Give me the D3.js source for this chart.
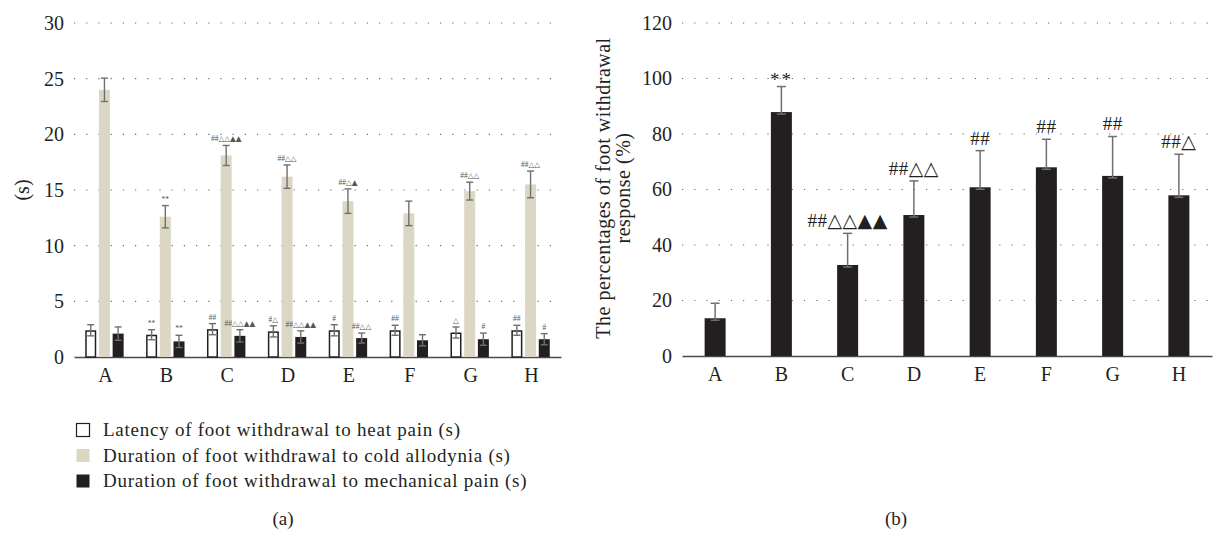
<!DOCTYPE html>
<html><head><meta charset="utf-8">
<script src="https://cdn.jsdelivr.net/npm/d3@7"></script>
<style>
html,body{margin:0;padding:0;background:#fff;}
text{font-family:"Liberation Serif","DejaVu Serif",serif;fill:#231f20;}
.tri{font-family:"DejaVu Sans",sans-serif;}
</style></head>
<body>
<svg id="chart" width="1215" height="533"></svg>
<script>
// ---------- data ----------
const groups = ["A","B","C","D","E","F","G","H"];
// panel (a)
const heatLatency = [2.4, 2.0, 2.5, 2.3, 2.4, 2.4, 2.2, 2.4];
const heatSd      = [0.5, 0.45, 0.5, 0.5, 0.5, 0.45, 0.5, 0.45];
const coldDuration = [24.0, 12.6, 18.1, 16.2, 14.0, 12.9, 14.9, 15.5];
const coldSd       = [1.05, 1.0, 0.9, 1.05, 1.1, 1.1, 0.8, 1.2];
const mechDuration = [2.1, 1.4, 1.9, 1.8, 1.7, 1.5, 1.6, 1.6];
const mechSd       = [0.6, 0.55, 0.55, 0.55, 0.45, 0.5, 0.55, 0.5];
const heatMarks = ["", "**", "##", "#△", "#", "##", "△", "##"];
const coldMarks = ["", "**", "##△△▲▲", "##△△", "##△▲", "", "##△△", "##△△"];
const mechMarks = ["", "**", "##△△▲▲", "##△△▲▲", "##△△", "", "#", "#"];
const ticksA = [0, 5, 10, 15, 20, 25, 30];
const legendLabels = [
  "Latency of foot withdrawal to heat pain (s)",
  "Duration of foot withdrawal to cold allodynia (s)",
  "Duration of foot withdrawal to mechanical pain (s)"
];
// panel (b)
const responsePct = [13.6, 87.9, 32.8, 50.8, 60.8, 68.0, 64.9, 57.9];
const responseSd  = [5.4, 9.2, 11.4, 12.3, 13.2, 10.1, 14.2, 14.8];
const responseMarks = ["", "**", "##△△▲▲", "##△△", "##", "##", "##", "##△"];
const ticksB = [0, 20, 40, 60, 80, 100, 120];

// ---------- styles ----------
const INK = "#231f20", BEIGE = "#dcd7c4", ERR = "#6f6f6f", GRID = "#6a6a6a";
const SERIF = '"Liberation Serif",serif';
const svg = d3.select("#chart");

// write a mark string: '#' and '*' in serif, triangles in DejaVu Sans
function writeMark(sel, str) {
  const parts = [];
  for (const ch of str) {
    const tri = (ch === "△" || ch === "▲");
    if (parts.length && parts[parts.length - 1].tri === tri) parts[parts.length - 1].t += ch;
    else parts.push({tri, t: ch});
  }
  parts.forEach(p => sel.append("tspan").attr("class", p.tri ? "tri" : null).text(p.t));
}

// ================= Panel (a) =================
const xA = d3.scaleBand().domain(groups).range([74, 561]);
const yA = d3.scaleLinear().domain([0, 30]).range([357, 23]);
const gA = svg.append("g");

gA.selectAll("line.grid").data(ticksA.filter(t => t > 0)).join("line")
  .attr("x1", 74).attr("x2", 561)
  .attr("y1", d => yA(d)).attr("y2", d => yA(d))
  .attr("stroke", GRID).attr("stroke-width", 1.2).attr("stroke-dasharray", "1.2,11");

const axA = gA.append("g").attr("transform", "translate(64,0)")
  .call(d3.axisLeft(yA).tickValues(ticksA).tickSize(0).tickPadding(0));
axA.attr("font-family", null).attr("font-size", null);
axA.select(".domain").remove();
axA.selectAll("text").attr("font-size", 20).attr("fill", INK).style("font-family", SERIF);

const xaxA = gA.append("g").attr("transform", "translate(0,357)")
  .call(d3.axisBottom(xA).tickSize(0).tickPadding(11));
xaxA.attr("font-family", null).attr("font-size", null);
xaxA.select(".domain").attr("stroke", "#4a4a4a").attr("stroke-width", 1.6);
xaxA.selectAll("text").attr("font-size", 20).attr("fill", INK).style("font-family", SERIF)
  .attr("dy", "0.71em").attr("transform", "translate(1,0)");

gA.append("text").attr("transform", "translate(22,190) rotate(-90)")
  .attr("text-anchor", "middle").attr("dy", "0.35em").attr("font-size", 20).text("(s)");

const barW = 11, off = 13.7;
const seriesA = [
  {vals: heatLatency, sd: heatSd, marks: heatMarks, dx: -off, fill: "#fff", stroke: INK},
  {vals: coldDuration, sd: coldSd, marks: coldMarks, dx: 0, fill: BEIGE, stroke: "none"},
  {vals: mechDuration, sd: mechSd, marks: mechMarks, dx: off, fill: INK, stroke: "none"}
];
seriesA.forEach(s => {
  const data = groups.map((g, i) => ({g, v: s.vals[i], sd: s.sd[i], m: s.marks[i]}));
  const cx = d => xA(d.g) + xA.bandwidth() / 2 + s.dx;
  const sw = s.stroke === "none" ? 0 : 1.5;
  gA.append("g").selectAll("rect").data(data).join("rect")
    .attr("x", d => cx(d) - barW / 2 + sw / 2)
    .attr("width", barW - sw)
    .attr("y", d => yA(d.v) + sw / 2)
    .attr("height", d => yA(0) - yA(d.v) - sw / 2)
    .attr("fill", s.fill).attr("stroke", s.stroke).attr("stroke-width", sw);
  const eg = gA.append("g").attr("stroke", ERR).attr("stroke-width", 1.4);
  data.forEach(d => {
    const x = cx(d), y1 = yA(d.v + d.sd), y2 = yA(d.v - d.sd);
    eg.append("line").attr("x1", x).attr("x2", x).attr("y1", y1).attr("y2", y2);
    eg.append("line").attr("x1", x - 3.5).attr("x2", x + 3.5).attr("y1", y1).attr("y2", y1);
    eg.append("line").attr("x1", x - 3.5).attr("x2", x + 3.5).attr("y1", y2).attr("y2", y2);
  });
  gA.append("g").selectAll("text").data(data.filter(d => d.m)).join("text")
    .attr("x", d => cx(d)).attr("y", d => yA(d.v + d.sd) - 4)
    .attr("text-anchor", "middle").attr("font-size", 7.5)
    .style("fill", "#555")
    .each(function(d) { writeMark(d3.select(this), d.m); });
});

// legend
const lg = svg.append("g");
const legFill = ["#fff", BEIGE, INK];
legendLabels.forEach((t, i) => {
  const cy = 430 + i * 25.5;
  lg.append("rect").attr("x", 76.5).attr("y", cy - 6.5).attr("width", 13).attr("height", 13)
    .attr("fill", legFill[i]).attr("stroke", i === 0 ? INK : "none").attr("stroke-width", 1.2);
  lg.append("text").attr("x", 103).attr("y", cy).attr("dy", "0.33em")
    .attr("font-size", 19).attr("letter-spacing", 0.75).text(t);
});
svg.append("text").attr("x", 283).attr("y", 525).attr("text-anchor", "middle")
  .attr("font-size", 19).text("(a)");

// ================= Panel (b) =================
const xB = d3.scaleBand().domain(groups).range([682, 1212]);
const yB = d3.scaleLinear().domain([0, 120]).range([356, 23]);
const gB = svg.append("g");

gB.selectAll("line.grid").data(ticksB.filter(t => t > 0)).join("line")
  .attr("x1", 682).attr("x2", 1212)
  .attr("y1", d => yB(d)).attr("y2", d => yB(d))
  .attr("stroke", GRID).attr("stroke-width", 1.2).attr("stroke-dasharray", "1.2,11");

const axB = gB.append("g").attr("transform", "translate(672,0)")
  .call(d3.axisLeft(yB).tickValues(ticksB).tickSize(0).tickPadding(0));
axB.attr("font-family", null).attr("font-size", null);
axB.select(".domain").remove();
axB.selectAll("text").attr("font-size", 20).attr("fill", INK).style("font-family", SERIF);

const xaxB = gB.append("g").attr("transform", "translate(0,356)")
  .call(d3.axisBottom(xB).tickSize(0).tickPadding(11));
xaxB.attr("font-family", null).attr("font-size", null);
xaxB.select(".domain").attr("stroke", "#4a4a4a").attr("stroke-width", 1.6);
xaxB.selectAll("text").attr("font-size", 20).attr("fill", INK).style("font-family", SERIF)
  .attr("dy", "0.71em");

const yl = gB.append("text").attr("transform", "translate(603,188) rotate(-90)")
  .attr("text-anchor", "middle").attr("font-size", 20).attr("letter-spacing", 0.5);
yl.append("tspan").attr("x", 0).attr("dy", "0.35em").text("The percentages of foot withdrawal");
yl.append("tspan").attr("x", 0).attr("dy", "1.0em").text("response (%)");

const barWB = 21;
const dataB = groups.map((g, i) => ({g, v: responsePct[i], sd: responseSd[i], m: responseMarks[i]}));
const cxB = d => xB(d.g) + xB.bandwidth() / 2;
gB.append("g").selectAll("rect").data(dataB).join("rect")
  .attr("x", d => cxB(d) - barWB / 2).attr("width", barWB)
  .attr("y", d => yB(d.v)).attr("height", d => yB(0) - yB(d.v))
  .attr("fill", INK);
const egB = gB.append("g").attr("stroke", ERR).attr("stroke-width", 1.5);
dataB.forEach(d => {
  const x = cxB(d), y1 = yB(d.v + d.sd), y2 = yB(d.v) + 2;
  egB.append("line").attr("x1", x).attr("x2", x).attr("y1", y1).attr("y2", y2);
  egB.append("line").attr("x1", x - 4.5).attr("x2", x + 4.5).attr("y1", y1).attr("y2", y1);
  egB.append("line").attr("x1", x - 4.5).attr("x2", x + 4.5).attr("y1", y2).attr("y2", y2);
});
gB.append("g").selectAll("text").data(dataB.filter(d => d.m)).join("text")
  .attr("x", cxB).attr("y", d => yB(d.v + d.sd) - 6)
  .attr("text-anchor", "middle").attr("font-size", 19)
  .attr("letter-spacing", d => d.m === "**" ? 2 : 0.5)
  .attr("dy", d => d.m === "**" ? "0.3em" : 0)
  .each(function(d) { writeMark(d3.select(this), d.m); });

svg.append("text").attr("x", 896).attr("y", 525).attr("text-anchor", "middle")
  .attr("font-size", 19).text("(b)");
</script>
</body></html>
